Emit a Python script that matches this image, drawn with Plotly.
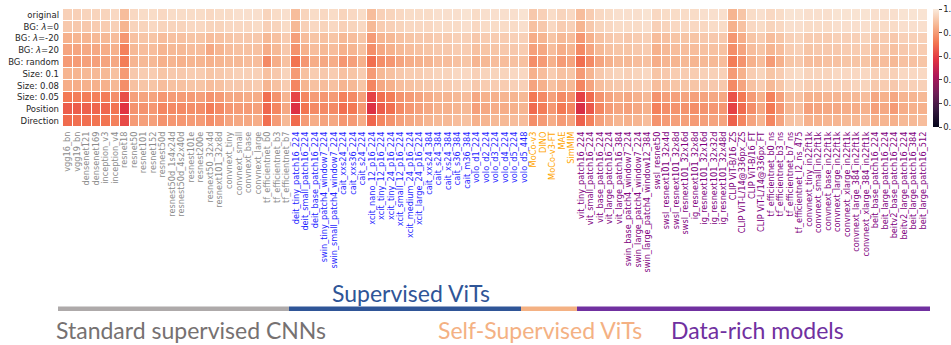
import plotly.graph_objects as go

# model groups (x axis, left to right)
cnn_models = ["vgg16_bn", "vgg19_bn", "densenet121", "densenet169", "inception_v3", "inception_v4",
              "resnet18", "resnet50", "resnet101", "resnet152", "resnest50d", "resnest50d_1s4x24d",
              "resnest50d_4s2x40d", "resnest101e", "resnest200e", "resnext50_32x4d", "resnext101_32x8d",
              "convnext_tiny", "convnext_small", "convnext_base", "convnext_large",
              "tf_efficientnet_b0", "tf_efficientnet_b3", "tf_efficientnet_b7"]
sup_vit_models = ["deit_tiny_patch16_224", "deit_small_patch16_224", "deit_base_patch16_224",
                  "swin_tiny_patch4_window7_224", "swin_small_patch4_window7_224",
                  "cait_xxs24_224", "cait_xxs36_224", "cait_s24_224",
                  "xcit_nano_12_p16_224", "xcit_tiny_12_p16_224", "xcit_tiny_24_p16_224",
                  "xcit_small_12_p16_224", "xcit_medium_24_p16_224", "xcit_large_24_p16_224",
                  "cait_xxs24_384", "cait_s24_384", "cait_xs24_384", "cait_s36_384", "cait_m36_384",
                  "volo_d1_224", "volo_d2_224", "volo_d3_224", "volo_d4_224", "volo_d5_224", "volo_d5_448"]
ssl_vit_models = ["MoCo-v3", "DINO", "MoCo-v3-FT", "MAE", "SimMIM"]
data_rich_models = ["vit_tiny_patch16_224", "vit_small_patch16_224", "vit_base_patch16_224",
                    "vit_large_patch16_224", "vit_large_patch16_384",
                    "swin_base_patch4_window7_224", "swin_large_patch4_window7_224",
                    "swin_large_patch4_window12_384", "swsl_resnet50", "swsl_resnext101_32x4d",
                    "swsl_resnext101_32x8d", "swsl_resnext101_32x16d", "ig_resnext101_32x8d",
                    "ig_resnext101_32x16d", "ig_resnext101_32x32d", "ig_resnext101_32x48d",
                    "CLIP ViT-B/16_ZS", "CLIP ViT-L/14@336px_ZS", "CLIP ViT-B/16_FT", "CLIP ViT-L/14@336px_FT",
                    "tf_efficientnet_b0_ns", "tf_efficientnet_b3_ns", "tf_efficientnet_b7_ns",
                    "tf_efficientnet_l2_ns_475", "convnext_tiny_in22ft1k", "convnext_small_in22ft1k",
                    "convnext_base_in22ft1k", "convnext_large_in22ft1k", "convnext_xlarge_in22ft1k",
                    "convnext_large_384_in22ft1k", "convnext_xlarge_384_in22ft1k",
                    "beit_base_patch16_224", "beit_large_patch16_224", "beitv2_base_patch16_224",
                    "beitv2_large_patch16_224", "beit_large_patch16_384", "beit_large_patch16_512"]

conditions = ["original", "BG: <i>λ</i>=0", "BG: <i>λ</i>=-20", "BG: <i>λ</i>=20", "BG: random",
              "Size: 0.1", "Size: 0.08", "Size: 0.05", "Position", "Direction"]

# accuracy per condition, one value per model
original = [.93, .93, .94, .94, .94, .95, .88, .95, .96, .96,
            .95, .96, .96, .96, .96, .95, .96, .96, .97, .97,
            .97, .94, .96, .97, .88, .94, .96, .95, .96, .94,
            .95, .96, .88, .93, .94, .95, .96, .96, .96, .97,
            .97, .97, .98, .96, .97, .97, .97, .97, .98, .91,
            .93, .96, .94, .95, .88, .92, .95, .96, .97, .97,
            .97, .98, .95, .96, .96, .96, .96, .97, .97, .97,
            .86, .90, .96, .97, .95, .96, .98, .98, .97, .97,
            .97, .98, .98, .98, .98, .97, .97, .97, .98, .98, .98]
bg_lam0 = [.91, .91, .91, .92, .92, .93, .86, .94, .94, .95,
           .94, .94, .94, .95, .95, .94, .94, .95, .95, .95,
           .96, .93, .94, .96, .87, .93, .95, .94, .95, .93,
           .94, .95, .87, .92, .93, .94, .95, .95, .95, .96,
           .96, .96, .97, .95, .96, .96, .96, .96, .97, .89,
           .91, .95, .92, .93, .86, .91, .94, .95, .96, .96,
           .96, .97, .93, .94, .95, .95, .95, .95, .96, .96,
           .85, .89, .95, .96, .94, .95, .97, .97, .96, .96,
           .96, .97, .97, .97, .97, .96, .96, .96, .97, .97, .97]
bg_lam_m20 = [.85, .86, .86, .87, .87, .88, .79, .89, .90, .90,
              .88, .89, .89, .90, .90, .88, .89, .90, .91, .91,
              .91, .87, .89, .92, .81, .88, .90, .89, .90, .87,
              .88, .90, .80, .86, .87, .89, .90, .91, .91, .92,
              .92, .93, .93, .91, .92, .92, .92, .93, .93, .84,
              .86, .90, .87, .88, .79, .85, .89, .91, .92, .91,
              .92, .93, .88, .89, .90, .90, .90, .91, .91, .91,
              .79, .84, .90, .92, .88, .90, .93, .94, .92, .92,
              .92, .93, .93, .93, .94, .91, .92, .91, .93, .93, .93]
bg_lam20 = [.82, .82, .83, .83, .84, .85, .74, .87, .88, .88,
            .86, .87, .87, .88, .88, .83, .86, .88, .89, .89,
            .89, .84, .87, .91, .78, .85, .88, .87, .88, .85,
            .86, .89, .77, .83, .85, .87, .88, .89, .90, .91,
            .91, .92, .92, .89, .90, .90, .91, .91, .92, .81,
            .83, .88, .84, .86, .76, .82, .87, .89, .90, .90,
            .91, .92, .85, .87, .88, .88, .88, .89, .89, .89,
            .77, .82, .88, .90, .86, .88, .92, .93, .90, .91,
            .91, .91, .92, .92, .92, .89, .91, .89, .91, .92, .92]
bg_random = [.80, .80, .81, .81, .82, .83, .73, .86, .87, .87,
             .85, .86, .85, .86, .86, .85, .86, .87, .87, .88,
             .88, .76, .84, .89, .71, .79, .84, .83, .84, .79,
             .81, .85, .70, .77, .79, .82, .84, .85, .86, .88,
             .88, .89, .90, .86, .87, .88, .88, .89, .89, .77,
             .80, .85, .80, .82, .70, .76, .82, .85, .87, .87,
             .88, .89, .84, .86, .86, .87, .86, .87, .87, .88,
             .73, .78, .85, .88, .80, .85, .90, .91, .88, .88,
             .89, .89, .90, .90, .90, .87, .88, .87, .89, .89, .90]
size_01 = [.86, .86, .87, .87, .87, .89, .80, .91, .92, .92,
           .90, .91, .91, .92, .92, .90, .91, .92, .93, .93,
           .93, .89, .91, .94, .80, .89, .92, .91, .92, .89,
           .90, .92, .80, .87, .89, .91, .92, .92, .93, .94,
           .94, .95, .95, .93, .94, .94, .94, .95, .95, .85,
           .88, .92, .89, .90, .80, .86, .91, .93, .94, .93,
           .94, .95, .90, .91, .92, .92, .92, .93, .93, .93,
           .80, .85, .92, .94, .90, .92, .95, .96, .94, .94,
           .94, .95, .95, .95, .95, .93, .94, .93, .95, .95, .95]
size_008 = [.84, .84, .85, .85, .85, .87, .77, .89, .90, .90,
            .88, .89, .89, .90, .90, .88, .89, .91, .91, .91,
            .92, .86, .89, .92, .75, .86, .89, .88, .89, .86,
            .87, .90, .75, .83, .85, .88, .89, .90, .91, .92,
            .92, .93, .94, .91, .92, .92, .92, .93, .93, .82,
            .85, .89, .86, .87, .75, .82, .88, .90, .91, .91,
            .92, .93, .88, .89, .90, .90, .90, .91, .91, .91,
            .76, .82, .89, .92, .87, .90, .94, .94, .92, .92,
            .93, .93, .93, .94, .94, .91, .92, .91, .93, .93, .93]
size_005 = [.72, .73, .73, .74, .73, .77, .63, .81, .82, .82,
            .79, .80, .80, .80, .81, .78, .80, .83, .83, .84,
            .84, .70, .78, .86, .61, .75, .80, .79, .80, .74,
            .76, .81, .60, .70, .73, .78, .80, .82, .84, .86,
            .86, .87, .88, .83, .85, .85, .86, .86, .87, .72,
            .76, .81, .76, .78, .60, .69, .78, .82, .84, .83,
            .85, .87, .78, .81, .81, .82, .81, .82, .83, .83,
            .64, .72, .80, .85, .74, .81, .88, .89, .85, .85,
            .86, .86, .87, .87, .88, .83, .85, .83, .86, .86, .87]
position = [.66, .66, .67, .68, .68, .71, .57, .78, .78, .79,
            .75, .76, .76, .77, .77, .73, .76, .79, .80, .80,
            .81, .68, .75, .83, .56, .71, .76, .76, .76, .70,
            .72, .79, .56, .66, .70, .76, .79, .81, .83, .85,
            .85, .86, .87, .81, .83, .84, .84, .85, .86, .69,
            .73, .79, .72, .75, .55, .65, .75, .80, .82, .81,
            .83, .85, .74, .77, .78, .78, .77, .78, .79, .79,
            .60, .69, .77, .83, .72, .79, .86, .88, .81, .82,
            .83, .83, .84, .84, .85, .81, .83, .80, .84, .85, .85]
direction = [.69, .70, .70, .71, .71, .74, .62, .80, .81, .81,
             .78, .79, .79, .80, .80, .77, .79, .82, .83, .83,
             .84, .70, .80, .87, .69, .80, .84, .82, .83, .79,
             .80, .84, .68, .75, .78, .81, .83, .84, .86, .87,
             .87, .88, .89, .85, .86, .87, .87, .88, .88, .77,
             .80, .84, .80, .82, .67, .74, .81, .84, .86, .85,
             .86, .88, .78, .80, .81, .81, .80, .81, .82, .82,
             .67, .75, .82, .86, .75, .82, .89, .90, .85, .85,
             .86, .86, .87, .87, .88, .85, .86, .85, .87, .87, .88]

group_colors = {"cnn": "#8c8c8c", "sup": "#1f1fff", "ssl": "#ffa500", "rich": "#800080"}

models = cnn_models + sup_vit_models + ssl_vit_models + data_rich_models
label_colors = ([group_colors["cnn"]] * len(cnn_models) + [group_colors["sup"]] * len(sup_vit_models)
                + [group_colors["ssl"]] * len(ssl_vit_models) + [group_colors["rich"]] * len(data_rich_models))
ticktext = ['<span style="color:%s">%s</span>' % (c, m) for m, c in zip(models, label_colors)]

z = [original, bg_lam0, bg_lam_m20, bg_lam20, bg_random, size_01, size_008, size_005, position, direction]

# seaborn "rocket"
rocket = [[0.0, "#03051A"], [0.143, "#35193E"], [0.286, "#701F57"], [0.429, "#AD1759"],
          [0.571, "#E13342"], [0.714, "#F37651"], [0.857, "#F6B48F"], [1.0, "#FAEBDD"]]

fig = go.Figure(go.Heatmap(
    z=z, x=models, y=conditions,
    colorscale=rocket, zmin=0, zmax=1,
    xgap=1, ygap=1,
    colorbar=dict(x=1.0058, xanchor="left", xpad=0, ypad=0, y=0.5, yanchor="middle",
                  len=1, lenmode="fraction",
                  thickness=6, outlinewidth=0, ticks="outside", ticklen=3, tickwidth=0.8,
                  tickvals=[0, 0.2, 0.4, 0.6, 0.8, 1.0], ticktext=["0.0", "0.2", "0.4", "0.6", "0.8", "1.0"],
                  tickfont=dict(family="DejaVu Sans", size=8.5, color="#262626")),
))

W, H = 951, 345
L, R, T, B = 63, 23, 9, 218
pw, ph = W - L - R, H - T - B


def px(x):
    return (x - L) / pw


def py(y):
    return (H - B - y) / ph


# group bars under the axis labels
bars = [(58, 289, "#AEAAAA"), (289, 521, "#2F5597"), (521, 577, "#F4B183"), (577, 930, "#7030A0")]
shapes = [dict(type="rect", xref="paper", yref="paper", x0=px(a), x1=px(b), y0=py(311), y1=py(306.5),
               fillcolor=c, line=dict(width=0)) for a, b, c in bars]

group_font = "Lato"
annotations = [
    dict(text="Supervised ViTs", x=px(411), y=py(293), color="#2F5597"),
    dict(text="Standard supervised CNNs", x=px(191), y=py(330), color="#767171"),
    dict(text="Self-Supervised ViTs", x=px(540), y=py(330), color="#F4B183"),
    dict(text="Data-rich models", x=px(757), y=py(330), color="#7030A0"),
]
annotations = [dict(text=a["text"], x=a["x"], y=a["y"], xref="paper", yref="paper", showarrow=False,
                    xanchor="center", yanchor="middle",
                    font=dict(family=group_font, size=23, color=a["color"])) for a in annotations]

fig.update_layout(
    width=W, height=H,
    margin=dict(l=L, r=R, t=T, b=B, autoexpand=False),
    paper_bgcolor="white", plot_bgcolor="white",
    shapes=shapes, annotations=annotations,
    xaxis=dict(type="category", tickmode="array", tickvals=models, ticktext=ticktext,
               tickangle=-90, ticks="", showgrid=False, zeroline=False, ticklabelstandoff=2,
               automargin=False, tickfont=dict(family="DejaVu Sans", size=8.2)),
    yaxis=dict(type="category", autorange="reversed", ticks="", showgrid=False, zeroline=False,
               automargin=False, ticklabelstandoff=3,
               tickfont=dict(family="DejaVu Sans", size=8.5, color="#262626")),
)

# drop the default page margin so the figure sits at the window's top-left corner
fig.write_html("out.html", config={"displayModeBar": False},
               post_script="document.body.style.margin='0px';")
